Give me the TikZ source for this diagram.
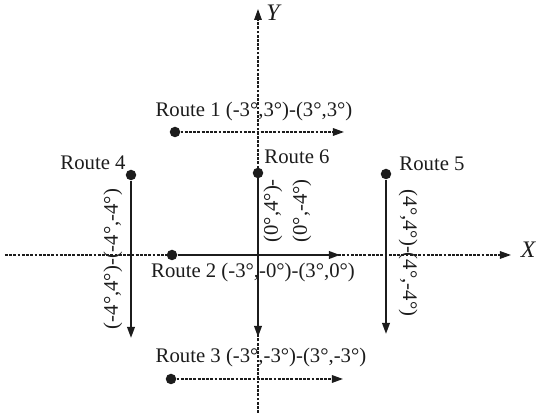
\documentclass[tikz,border=0pt]{standalone}
\usepackage{fontspec}
\setmainfont{Liberation Serif}
\usetikzlibrary{arrows.meta,positioning}
\definecolor{ink}{RGB}{28,28,28}
\tikzset{
  >={Triangle[length=2.2mm,width=1.5mm]},
  axis/.style={->,draw=ink,line width=0.8pt,dash pattern=on 1.6pt off 0.8pt},
  route/.style={->,draw=ink,line width=1.1pt},
  dashroute/.style={->,draw=ink,line width=0.9pt,dash pattern=on 1.6pt off 0.8pt},
  dot/.style={circle,fill=ink,inner sep=0pt,minimum size=2.1mm},
  tag/.style={font=\fontsize{11.8}{14}\selectfont,text=ink,inner sep=1pt},
  axtag/.style={font=\fontsize{13.5}{15}\selectfont\itshape,text=ink,inner sep=1pt},
}
\begin{document}
\begin{tikzpicture}[x=0.2mm,y=-0.2mm]
  \useasboundingbox (0,0) rectangle (537,414);
  % axes
  \coordinate (xa) at (5,255);
  \coordinate (xb) at (511,255);
  \coordinate (ya) at (258,413);
  \coordinate (yb) at (258,9);
  \draw[axis] (xa) -- (xb);
  \draw[axis] (ya) -- (yb);
  \node[axtag] (xlab) at (528,250) {X};
  \node[axtag] (ylab) at (273,13) {Y};
  % horizontal routes
  \node[dot] (r1) at (175,132) {};
  \coordinate (r1e) at (344,132);
  \draw[dashroute] (r1) -- (r1e);
  \node[tag] (r1t) at (254,112) {Route 1 (-3°,3°)-(3°,3°)};
  \node[dot] (r2) at (172,255) {};
  \coordinate (r2e) at (340,255);
  \draw[route] (r2) -- (r2e);
  \node[tag] (r2t) at (253,273) {Route 2 (-3°,-0°)-(3°,0°)};
  \node[dot] (r3) at (171,379) {};
  \coordinate (r3e) at (343,379);
  \draw[dashroute] (r3) -- (r3e);
  \node[tag] (r3t) at (261,358) {Route 3 (-3°,-3°)-(3°,-3°)};
  % vertical routes
  \node[dot] (r4) at (131,175) {};
  \coordinate (r4e) at (131,338);
  \draw[route] (r4) -- (r4e);
  \node[tag] (r4t) at (93,163) {Route 4};
  \node[tag,rotate=90] (r4v) at (113,259) {(-4°,4°)-(-4°,-4°)};
  \node[dot] (r6) at (258,173) {};
  \coordinate (r6e) at (258,337);
  \draw[route] (r6) -- (r6e);
  \node[tag] (r6t) at (297,157) {Route 6};
  \node[tag,rotate=90,anchor=east] (r6a) at (273,177) {(0°,4°)-};
  \node[tag,rotate=90,anchor=east] (r6b) at (302,177) {(0°,-4°)};
  \node[dot] (r5) at (386,174) {};
  \coordinate (r5e) at (386,334);
  \draw[route] (r5) -- (r5e);
  \node[tag] (r5t) at (432,164) {Route 5};
  \node[tag,rotate=-90] (r5v) at (408,253) {(4°,4°)-(4°,-4°)};
\end{tikzpicture}
\end{document}
